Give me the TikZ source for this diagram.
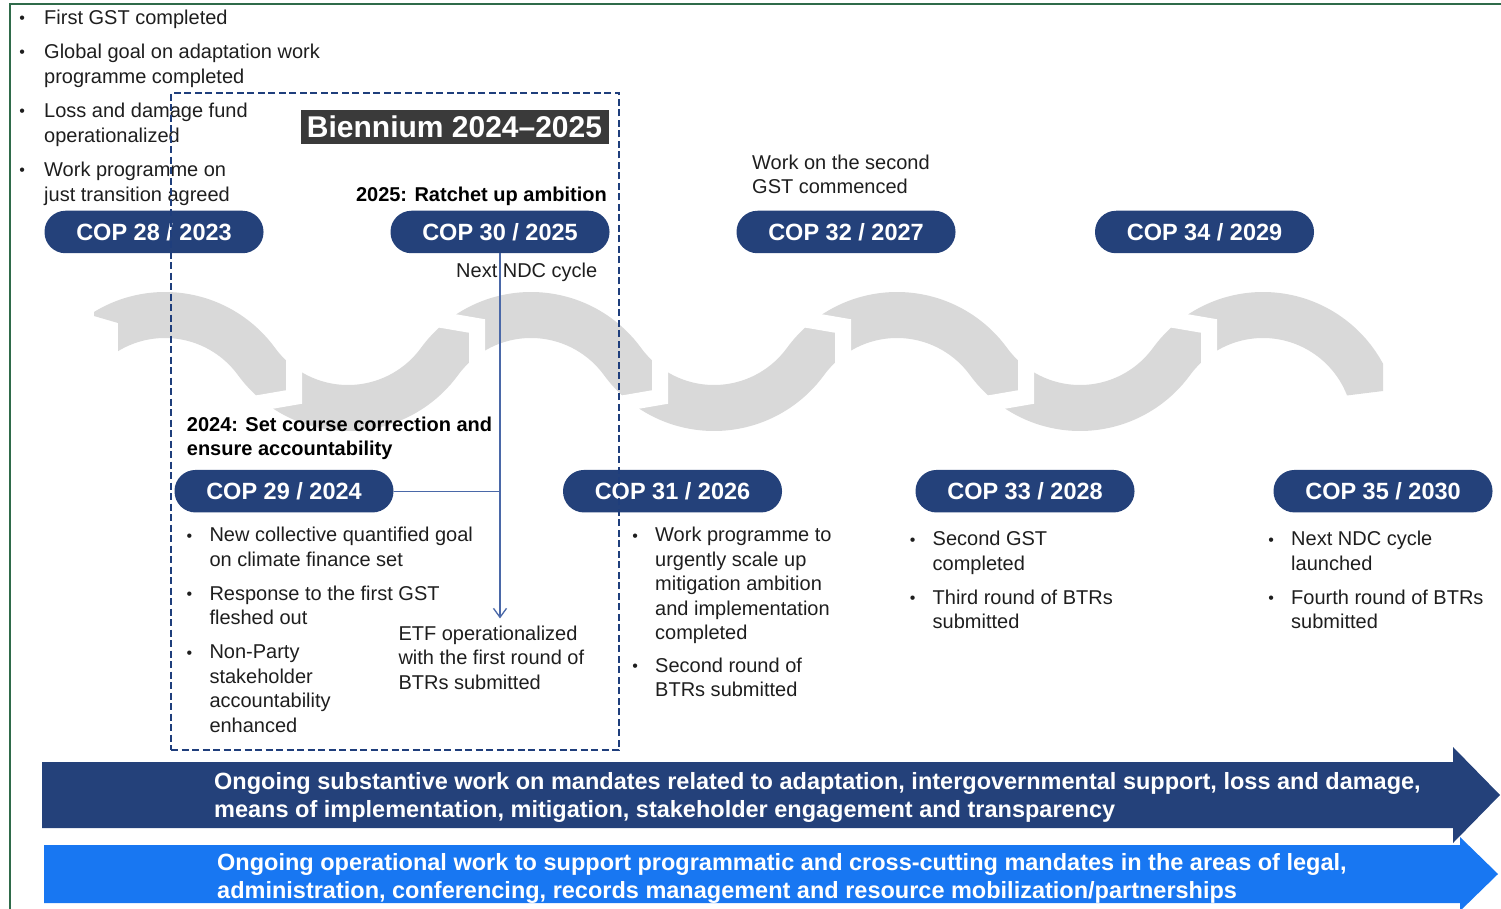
\documentclass[tikz,border=0pt]{standalone}
\usepackage{fontspec}
\setmainfont{Liberation Sans}
\usetikzlibrary{arrows.meta}
\definecolor{copblue}{HTML}{24417A}
\definecolor{dashblue}{HTML}{1F3E7C}
\definecolor{wavegrey}{HTML}{D9D9D9}
\definecolor{framegreen}{HTML}{2F6B4A}
\definecolor{biengrey}{HTML}{3A3A3A}
\definecolor{linkblue}{HTML}{4A68A8}
\definecolor{opblue}{HTML}{1877F2}
\definecolor{txtgrey}{HTML}{1E1E1E}
\newcommand{\bulA}{\llap{\raisebox{0.8pt}{\fontsize{16}{16}\selectfont\textbullet}\hspace{19.2pt}}}
\newcommand{\bulB}{\llap{\raisebox{0.8pt}{\fontsize{16}{16}\selectfont\textbullet}\hspace{17.2pt}}}
\tikzset{
  lst/.style={anchor=north west, align=left, inner sep=0pt, text=txtgrey, font=\fontsize{20}{24.5}\selectfont},
  lstb/.style={anchor=north west, align=left, inner sep=0pt, text=black, font=\bfseries\fontsize{20}{24}\selectfont},
  cop/.style={fill=copblue, text=white, rounded corners=21pt, minimum width=219pt, minimum height=42.5pt, inner sep=0pt, font=\bfseries\fontsize{23.5}{28}\selectfont},
  bien/.style={fill=biengrey, text=white, minimum width=308pt, minimum height=34.3pt, inner sep=0pt, font=\bfseries\fontsize{30}{34}\selectfont},
  bienframe/.style={draw=dashblue, line width=2.2pt, dash pattern=on 7pt off 3.5pt, minimum width=448pt, minimum height=657pt, inner sep=0pt},
  link/.style={draw=linkblue, line width=1.3pt},
  gapline/.style={white, line width=16pt, line join=miter},
  wave/.style={draw=wavegrey, line width=46pt, line join=round},
  bandtxt/.style={anchor=north west, align=left, inner sep=0pt, text=white, font=\bfseries\fontsize{23.5}{28}\selectfont},
}
\begin{document}
\begin{tikzpicture}[x=1pt,y=-1pt]
\useasboundingbox (0,0) rectangle (1501,909);
% frame
\draw[framegreen, line width=2pt] (10,909) -- (10,4) -- (1501,4);
% wave
\begin{scope}
\clip (94,200) -- (94,316) -- (118,323) -- (118,520) -- (1330,520) -- (1330,397.6) -- (1383,391) -- (1383,200) -- cycle;
\draw[wave] plot[domain=65:256.5,samples=60] (\x,{428.3-sqrt(12836.89-(\x-165)*(\x-165))})
 -- plot[domain=256.5:439.5,samples=60] (\x,{294.7+sqrt(12836.89-(\x-348)*(\x-348))})
 -- plot[domain=439.5:622.5,samples=60] (\x,{428.3-sqrt(12836.89-(\x-531)*(\x-531))})
 -- plot[domain=622.5:805.5,samples=60] (\x,{294.7+sqrt(12836.89-(\x-714)*(\x-714))})
 -- plot[domain=805.5:988.5,samples=60] (\x,{428.3-sqrt(12836.89-(\x-897)*(\x-897))})
 -- plot[domain=988.5:1171.5,samples=60] (\x,{294.7+sqrt(12836.89-(\x-1080)*(\x-1080))})
 -- plot[domain=1171.5:1373,samples=60] (\x,{428.3-sqrt(12836.89-(\x-1263)*(\x-1263))});
\end{scope}
\foreach \p in {165,531,897} \draw[gapline] (\p+129,335) -- (\p+129,397) -- (\p+100,402) -- (\p+70,407);
\foreach \q in {531,897,1263} \draw[gapline] (\q-54,388) -- (\q-54,326) -- (\q-83,321) -- (\q-113,316);

% top-left list
\node[lst] (firstlist) at (44,6.85) {\strut\bulA First GST completed\\[10pt]\bulA Global goal on adaptation work\\programme completed\\[10pt]\bulA Loss and damage fund\\operationalized\\[10pt]\bulA Work programme on\\just transition agreed};

% biennium
\node[bien] (bien) at (454.5,127.2) {Biennium 2024–2025};
\node[lstb, anchor=north east] (ratchet) at (607,184.9) {\strut 2025: Ratchet up ambition};
\node[lstb] (setcourse) at (186.7,414.2) {\strut 2024: Set course correction and\\ensure accountability};

% COP pills
\node[cop] (cop28) at (154,232) {COP 28 / 2023};
\node[cop] (cop30) at (500,232) {COP 30 / 2025};
\node[cop] (cop32) at (846,232) {COP 32 / 2027};
\node[cop] (cop34) at (1204.5,232) {COP 34 / 2029};
\node[cop] (cop29) at (284,491.2) {COP 29 / 2024};
\node[cop] (cop31) at (672.5,491.2) {COP 31 / 2026};
\node[cop] (cop33) at (1025,491.2) {COP 33 / 2028};
\node[cop] (cop35) at (1383,491.2) {COP 35 / 2030};

% labels
\node[lst] (ndc) at (456,260.15) {\strut Next NDC cycle};
\node[lst] (secondgst) at (752,151.85) {\strut Work on the second\\GST commenced};
\node[lst] (etf) at (398.3,622.85) {\strut ETF operationalized\\with the first round of\\BTRs submitted};
\node[lst] (list29) at (209.3,524.55) {\strut\bulB New collective quantified goal\\on climate finance set\\[9.5pt]\bulB Response to the first GST\\fleshed out\\[9.5pt]\bulB Non-Party\\stakeholder\\accountability\\enhanced};
\node[lst] (list31) at (655,524.55) {\strut\bulB Work programme to\\urgently scale up\\mitigation ambition\\and implementation\\completed\\[8pt]\bulB Second round of\\BTRs submitted};
\node[lst] (list33) at (932.5,528.55) {\strut\bulB Second GST\\completed\\[9.5pt]\bulB Third round of BTRs\\submitted};
\node[lst] (list35) at (1291,528.55) {\strut\bulB Next NDC cycle\\launched\\[9.5pt]\bulB Fourth round of BTRs\\submitted};

% connectors
\path (cop30.south) ++(0,365) coordinate (etfend);
\draw[link, -{Straight Barb[length=9pt,width=13pt]}] (cop30.south) -- (etfend);
\draw[link] (cop29.east) -- (cop29.east -| cop30.south);

% biennium frame
\node[bienframe] (bienbox) at (395,421.5) {};

% bottom arrows
\fill[copblue] (42,762) -- (1453,762) -- (1453,747) -- (1500,795) -- (1453,843) -- (1453,828) -- (42,828) -- cycle;
\fill[opblue] (44,845) -- (1460,845) -- (1460,837) -- (1498,874) -- (1460,911) -- (1460,903) -- (44,903) -- cycle;
\node[bandtxt] (band1) at (214,769.4) {\strut Ongoing substantive work on mandates related to adaptation, intergovernmental support, loss and damage,\\means of implementation, mitigation, stakeholder engagement and transparency};
\node[bandtxt] (band2) at (217,850.4) {\strut Ongoing operational work to support programmatic and cross-cutting mandates in the areas of legal,\\administration, conferencing, records management and resource mobilization/partnerships};
\end{tikzpicture}
\end{document}
